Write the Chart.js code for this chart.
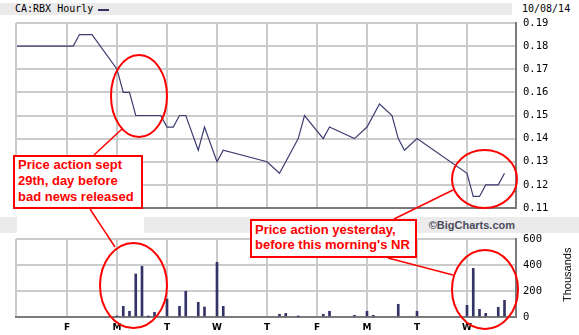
<!DOCTYPE html>
<html>
<head>
<meta charset="utf-8">
<script src="https://cdn.jsdelivr.net/npm/chart.js@4.4.1/dist/chart.umd.min.js"></script>
<style>
body { margin: 0; background: #fff; }
#wrap { position: relative; width: 579px; height: 335px; overflow: hidden; }
canvas { position: absolute; left: 0; }
#priceCanvas { top: 0; }
#volCanvas { top: 232px; }
.band { position: absolute; background: #ebebeb; }
.txt { position: absolute; white-space: nowrap; }
.mono { font: 10px "DejaVu Sans Mono", monospace; color: #000; line-height: 12px; }
.note { position: absolute; box-sizing: border-box; background: #fff; border: 2px solid #f00; color: #f00;
        font: bold 13px "Liberation Sans", Arial, sans-serif; white-space: nowrap; padding-left: 3px; }
</style>
</head>
<body>
<div id="wrap">
  <div class="band" style="left:0;top:3px;width:512px;height:12px;"></div>
  <div class="txt mono" style="left:15px;top:3px;">CA:RBX Hourly</div>
  <div style="position:absolute;left:98px;top:9px;width:11px;height:2px;background:#333366;"></div>
  <div class="txt mono" style="left:522px;top:3px;">10/08/14</div>

  <div class="band" style="left:0;top:217px;width:579px;height:16px;"></div>
  <div style="position:absolute;left:17px;top:217px;width:127px;height:16px;background:#fff;"></div>
  <div class="txt" style="right:64px;top:218px;font:bold 11px 'Liberation Sans',Arial,sans-serif;color:#4b4b5b;line-height:14px;">©BigCharts.com</div>

  <canvas id="priceCanvas" width="579" height="232"></canvas>
  <canvas id="volCanvas" width="579" height="103"></canvas>

  <div class="txt" style="left:540px;top:268px;width:54px;text-align:center;transform:rotate(-90deg);font:11px 'Liberation Sans',Arial,sans-serif;color:#000;line-height:14px;">Thousands</div>

  <div class="note" style="left:13px;top:155px;width:130px;height:54px;line-height:16px;">Price action sept<br>29th, day before<br>bad news released</div>
  <div class="note" style="left:250px;top:219px;width:167px;height:39px;line-height:15px;padding-top:1px;">Price action yesterday,<br>before this morning's NR</div>
</div>

<script>
// hourly slots, 8 per trading day, 10 days (Thu .. Wed)
var dayLabels = ["F", "M", "T", "W", "T", "F", "M", "T", "W"];
var dayStarts = [8, 16, 24, 32, 40, 48, 56, 64, 72];

var priceHours = [0, 9, 10, 12, 16, 17, 18, 19, 23, 24, 25, 26, 27, 29, 30, 32, 33, 40, 42, 45,
                  46, 49, 50, 54, 56, 58, 60, 61, 62, 64, 72, 73, 74, 75, 77, 78];
var prices = [0.18, 0.18, 0.185, 0.185, 0.17, 0.16, 0.16, 0.15, 0.15, 0.145, 0.145, 0.15, 0.15, 0.135, 0.145, 0.13, 0.135, 0.13, 0.125, 0.14,
              0.15, 0.14, 0.145, 0.14, 0.145, 0.155, 0.15, 0.14, 0.135, 0.14, 0.125, 0.115, 0.115, 0.12, 0.12, 0.125];

var volHours = [16, 17, 18, 19, 20, 21, 22, 24, 26, 27, 29, 30, 32, 33, 42, 43, 45,
                49, 50, 54, 56, 57, 61, 64, 72, 73, 74, 75, 77, 78];
var volumes = [4, 82, 44, 331, 390, 4, 36, 138, 82, 198, 113, 77, 421, 82, 21, 28, 4,
               21, 44, 13, 44, 13, 98, 44, 90, 374, 59, 28, 75, 128];

var priceTicks = [0.11, 0.12, 0.13, 0.14, 0.15, 0.16, 0.17, 0.18, 0.19];
var volTicks = [0, 200, 400, 600];

var xMin = -0.16, xMax = 79.84;

// red hand-drawn annotations (page pixels)
var pointerLines = [[122, 129, 94, 155], [90, 209, 115, 247], [394, 219, 453, 190], [388, 258, 453, 275]];
var circles = [[139, 96, 28, 41], [484.5, 179, 32.5, 29], [133.5, 285.5, 33.5, 42.5], [485, 289.5, 33, 39.5]];

function pairs(xs, ys) {
    return xs.map(function (x, i) { return { x: x, y: ys[i] }; });
}

// each canvas draws the part of the annotations that falls on it
function redMarks(top) {
    return {
        id: "redMarks",
        afterDraw: function (chart) {
            var ctx = chart.ctx;
            ctx.save();
            ctx.translate(0, -top);
            ctx.strokeStyle = "#f00";
            ctx.lineWidth = 1.5;
            pointerLines.forEach(function (l) {
                ctx.beginPath();
                ctx.moveTo(l[0], l[1]);
                ctx.lineTo(l[2], l[3]);
                ctx.stroke();
            });
            ctx.lineWidth = 2;
            circles.forEach(function (e) {
                ctx.beginPath();
                ctx.ellipse(e[0], e[1], e[2], e[3], 0, 0, Math.PI * 2);
                ctx.stroke();
            });
            ctx.restore();
        }
    };
}

function xScale(showLabels, height) {
    return {
        type: "linear",
        min: xMin,
        max: xMax,
        offset: false,
        afterBuildTicks: function (scale) {
            scale.ticks = [xMin].concat(dayStarts).map(function (v) { return { value: v }; });
        },
        afterFit: function (scale) {
            scale.height = height;
            scale.paddingLeft = 0;
            scale.paddingRight = 0;
        },
        grid: { color: "#cbcbcb", lineWidth: 2, drawTicks: false, offset: false },
        border: { color: "#7a7a7a", width: 2 },
        ticks: {
            display: showLabels,
            autoSkip: false,
            maxRotation: 0,
            padding: 5,
            color: "#000",
            font: { family: "DejaVu Sans", size: 9, weight: "bold" },
            callback: function (v) {
                var i = dayStarts.indexOf(v);
                return i < 0 ? "" : dayLabels[i];
            }
        }
    };
}

function yScale(tickValues, fmt) {
    return {
        position: "right",
        min: tickValues[0],
        max: tickValues[tickValues.length - 1],
        afterBuildTicks: function (scale) {
            scale.ticks = tickValues.map(function (v) { return { value: v }; });
        },
        afterFit: function (scale) {
            scale.width = 63;
            scale.paddingTop = 0;
            scale.paddingBottom = 0;
        },
        grid: { color: "#cbcbcb", lineWidth: 2, drawTicks: false },
        border: { color: "#7a7a7a", width: 2 },
        ticks: { padding: 7, color: "#000", font: { family: "DejaVu Sans Mono", size: 10.5 }, callback: fmt }
    };
}

var priceChart = new Chart(document.getElementById("priceCanvas"), {
    type: "line",
    data: {
        datasets: [{
            data: pairs(priceHours, prices),
            borderColor: "#3d3d72",
            borderWidth: 1.2,
            pointRadius: 0,
            tension: 0
        }]
    },
    options: {
        responsive: false,
        animation: false,
        layout: { padding: { left: 16, top: 23, right: 0, bottom: 0 } },
        plugins: { legend: { display: false }, tooltip: { enabled: false } },
        scales: {
            x: xScale(false, 24),
            y: yScale(priceTicks, function (v) { return v.toFixed(2); })
        }
    },
    plugins: [redMarks(0)]
});

var volChart = new Chart(document.getElementById("volCanvas"), {
    type: "bar",
    data: {
        datasets: [{
            data: pairs(volHours, volumes),
            backgroundColor: "#333366",
            barThickness: 2,
            borderWidth: 0
        }]
    },
    options: {
        responsive: false,
        animation: false,
        layout: { padding: { left: 16, top: 7, right: 0, bottom: 0 } },
        plugins: { legend: { display: false }, tooltip: { enabled: false } },
        scales: {
            x: xScale(true, 18),
            y: yScale(volTicks, function (v) { return String(v); })
        }
    },
    plugins: [redMarks(232)]
});
</script>
</body>
</html>
